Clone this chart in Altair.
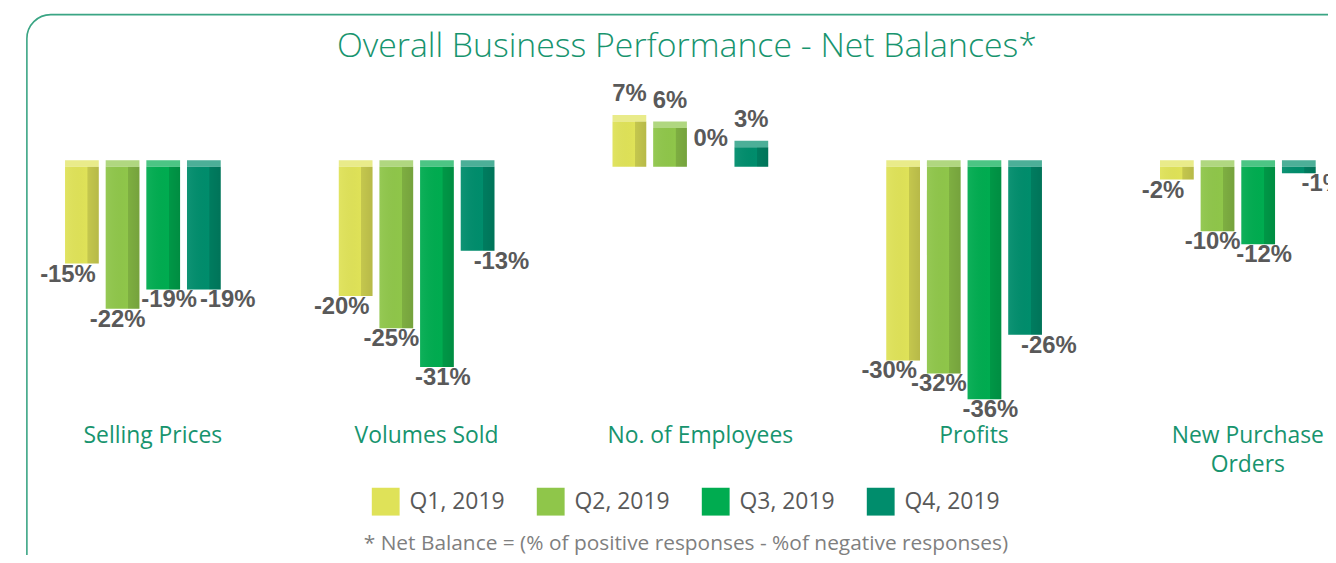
import altair as alt
import pandas as pd

categories = ["Selling Prices", "Volumes Sold", "No. of Employees", "Profits", "New Purchase Orders"]
category_labels = ["Selling Prices", "Volumes Sold", "No. of Employees", "Profits", "New Purchase\nOrders"]
series = ["Q1, 2019", "Q2, 2019", "Q3, 2019", "Q4, 2019"]
q1 = [-15, -20, 7, -30, -2]
q2 = [-22, -25, 6, -32, -10]
q3 = [-19, -31, 0, -36, -12]
q4 = [-19, -13, 3, -26, -1]
colors = ["#dfe258", "#8fc64a", "#00ac50", "#008d6c"]

title_text = "Overall Business Performance - Net Balances*"
footnote_text = "* Net Balance = (% of positive responses - %of negative responses)"

rows = []
for s, vals in zip(series, [q1, q2, q3, q4]):
    for c, v in zip(categories, vals):
        rows.append({"category": c, "series": s, "value": v})
df = pd.DataFrame(rows)
lab_df = pd.DataFrame({"category": categories, "label": category_labels})

W, H = 1328, 547
GREEN = "#17946e"
GRAY = "#595959"
FONT = "Open Sans"

xscale = alt.Scale(domain=categories, range=[-2, 1375], paddingInner=0.406, paddingOuter=0.203)
xoff_scale = alt.Scale(domain=series, paddingInner=0.17, paddingOuter=0.085)
yscale = alt.Scale(domain=[-40, 10], range=[418, 93], nice=False, zero=False)

X = alt.X("category:N", scale=xscale, axis=None, sort=categories)
XO = alt.XOffset("series:N", scale=xoff_scale, sort=series)
Y = alt.Y("value:Q", scale=yscale, axis=None)
color = alt.Color(
    "series:N",
    scale=alt.Scale(domain=series, range=colors),
    sort=series,
    legend=alt.Legend(
        title=None, orient="none", legendX=366, legendY=481, direction="horizontal",
        symbolType="square", symbolSize=784, symbolStrokeWidth=0, symbolOpacity=1,
        labelFontSize=23, labelFont=FONT, labelColor=GRAY, labelOffset=10,
        columnPadding=32, labelLimit=200,
    ),
)

base = alt.Chart(df)

bars = base.mark_bar(strokeWidth=0).encode(
    x=X, xOffset=XO, y=Y, y2=alt.datum(0), color=color
)

shade = base.mark_bar(
    fill=alt.LinearGradient(
        gradient="linear", x1=0, x2=1, y1=0, y2=0,
        stops=[
            alt.GradientStop(offset=0, color="rgba(255,255,255,0.06)"),
            alt.GradientStop(offset=0.66, color="rgba(0,0,0,0.0)"),
            alt.GradientStop(offset=0.67, color="rgba(0,0,0,0.12)"),
            alt.GradientStop(offset=1, color="rgba(0,0,0,0.18)"),
        ],
    ),
    strokeWidth=0,
).encode(x=X, xOffset=XO, y=Y, y2=alt.datum(0))

caps = base.transform_filter("datum.value != 0").transform_calculate(
    lo="max(datum.value, 0)", hi="max(datum.value, 0) + 1.0"
).mark_bar(opacity=0.7, strokeWidth=0).encode(
    x=X, xOffset=XO,
    y=alt.Y("lo:Q", scale=yscale, axis=None),
    y2="hi:Q",
    color=color,
)

label_dx = {"Q1, 2019": -14, "Q2, 2019": -5, "Q3, 2019": 6, "Q4, 2019": 24}
neg_layers = []
for s in series:
    neg_layers.append(
        base.transform_filter(
            f"datum.value < 0 && datum.series == '{s}'"
        ).transform_calculate(txt="datum.value + '%'").mark_text(
            font="Liberation Sans", fontWeight="bold", fontSize=24, color=GRAY,
            baseline="middle", dy=11, dx=label_dx[s],
        ).encode(x=X, xOffset=XO, y=Y, text="txt:N")
    )

pos_labels = base.transform_filter("datum.value >= 0").transform_calculate(
    txt="datum.value + '%'", top="datum.value + 1"
).mark_text(
    font="Liberation Sans", fontWeight="bold", fontSize=24, color=GRAY,
    baseline="bottom", dy=-9, dx=0,
).encode(x=X, xOffset=XO, y=alt.Y("top:Q", scale=yscale, axis=None), text="txt:N")

cat_labels = alt.Chart(lab_df).mark_text(
    font=FONT, fontSize=23, color=GREEN, baseline="top", lineBreak="\n",
    lineHeight=29, dx=10,
).encode(
    x=alt.X("category:N", scale=xscale, axis=None, sort=categories),
    y=alt.value(418),
    text="label:N",
)

one = alt.Data(values=[{"a": 1}])

border = alt.Chart(one).mark_rect(
    fill="transparent", stroke="#3aa584", strokeWidth=1.6, cornerRadius=24
).encode(x=alt.value(19), x2=alt.value(1420), y=alt.value(5), y2=alt.value(640))

title = alt.Chart(one).mark_text(
    text=title_text, font=FONT, fontWeight=300, fontSize=34, color=GREEN,
    baseline="middle", align="center",
).encode(x=alt.value(683), y=alt.value(38))

footnote = alt.Chart(one).mark_text(
    text=footnote_text, font=FONT, fontSize=21, color="#7f7f7f",
    baseline="middle", align="center",
).encode(x=alt.value(682), y=alt.value(538))

chart = alt.layer(
    border, title, bars, shade, caps, *neg_layers, pos_labels, cat_labels, footnote
).properties(
    width=W, height=H,
    autosize=alt.AutoSizeParams(type="none"),
    padding=0,
).configure_view(stroke=None)

chart.save("out.html", embed_options={"renderer": "svg", "actions": False})
